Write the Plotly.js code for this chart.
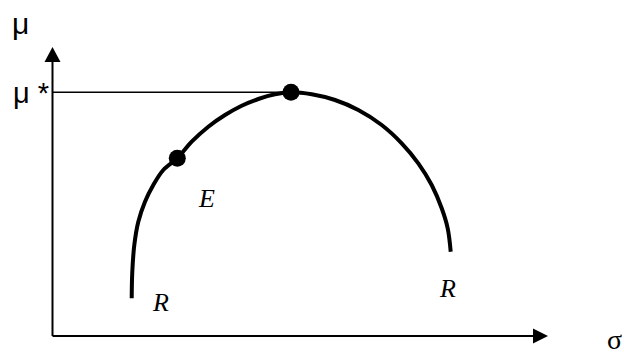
<!DOCTYPE html>
<html>
<head>
<meta charset="utf-8">
<script src="https://cdn.plot.ly/plotly-3.0.1.min.js"></script>
<style>html,body{margin:0;padding:0;background:#fff;}#chart{width:624px;height:359px;}</style>
</head>
<body>
<div id="chart"></div>
<script>
// Frontier curve (sigma, mu)
const curveSigma = [7.92, 7.98, 8.18, 8.58, 9.25, 10.08, 11.08, 12.48, 13.92, 15.58, 17.25, 18.92, 20.58, 22.25, 23.85, 25.92, 28.25, 30.58, 32.92, 34.92, 36.58, 37.92, 38.92, 39.52, 39.82];
const curveMu    = [3.77, 6.43, 9.10, 11.43, 13.43, 15.10, 16.60, 17.77, 19.43, 20.93, 22.10, 23.03, 23.70, 24.17, 24.37, 24.17, 23.60, 22.60, 21.10, 19.27, 17.27, 15.10, 12.77, 10.77, 8.43];
// Highlighted points: E point and optimum (mu*)
const pointSigma = [12.48, 23.85];
const pointMu    = [17.77, 24.37];
const muStar = 24.37;
const sigmaStar = 23.85;
const axisMaxSigma = 49.55;
const axisMaxMu = 28.9;

const traces = [
  {x: [0, sigmaStar], y: [muStar, muStar], mode: 'lines', line: {color: '#000', width: 1.5}, hoverinfo: 'skip'},
  {x: curveSigma, y: curveMu, mode: 'lines', line: {color: '#000', width: 4, shape: 'spline', smoothing: 1}, hoverinfo: 'skip'},
  {x: pointSigma, y: pointMu, mode: 'markers', marker: {color: '#000', size: 17}, hoverinfo: 'skip'}
];

const layout = {
  width: 624, height: 359,
  margin: {l: 0, r: 0, t: 0, b: 0},
  paper_bgcolor: '#fff', plot_bgcolor: '#fff',
  showlegend: false,
  xaxis: {range: [-5.25, 57.15], visible: false, fixedrange: true},
  yaxis: {range: [-2.3, 33.6], visible: false, fixedrange: true},
  shapes: [
    {type: 'line', x0: 0, y0: 0, x1: 0, y1: axisMaxMu - 1.2, line: {color: '#000', width: 2}},
    {type: 'line', x0: 0, y0: 0, x1: axisMaxSigma - 1.2, y1: 0, line: {color: '#000', width: 2}},
    {type: 'path', path: `M 0 ${axisMaxMu} L -0.8 ${axisMaxMu-1.5} L 0.8 ${axisMaxMu-1.5} Z`, fillcolor: '#000', line: {color: '#000', width: 0}},
    {type: 'path', path: `M ${axisMaxSigma} 0 L ${axisMaxSigma-1.5} 0.75 L ${axisMaxSigma-1.5} -0.75 Z`, fillcolor: '#000', line: {color: '#000', width: 0}}
  ],
  annotations: [
    {x: -3.2, y: 31.3, text: 'μ', showarrow: false, xanchor: 'center', yanchor: 'middle', font: {family: 'Liberation Sans, Arial, sans-serif', size: 30, color: '#000'}},
    {x: -2.2, y: 24.3, text: 'μ *', showarrow: false, xanchor: 'center', yanchor: 'middle', font: {family: 'Liberation Sans, Arial, sans-serif', size: 29, color: '#000'}},
    {x: 15.4, y: 13.8, text: '<i>E</i>', showarrow: false, xanchor: 'center', yanchor: 'middle', font: {family: 'Liberation Serif, Times New Roman, serif', size: 26, color: '#000'}},
    {x: 10.8, y: 3.4, text: '<i>R</i>', showarrow: false, xanchor: 'center', yanchor: 'middle', font: {family: 'Liberation Serif, Times New Roman, serif', size: 26, color: '#000'}},
    {x: 39.45, y: 4.8, text: '<i>R</i>', showarrow: false, xanchor: 'center', yanchor: 'middle', font: {family: 'Liberation Serif, Times New Roman, serif', size: 26, color: '#000'}},
    {x: 55.2, y: -0.3, text: 'σ', showarrow: false, xanchor: 'left', yanchor: 'middle', font: {family: 'Liberation Serif, Times New Roman, serif', size: 28, color: '#000'}}
  ]
};

Plotly.newPlot('chart', traces, layout, {displayModeBar: false, staticPlot: true});
</script>
</body>
</html>
